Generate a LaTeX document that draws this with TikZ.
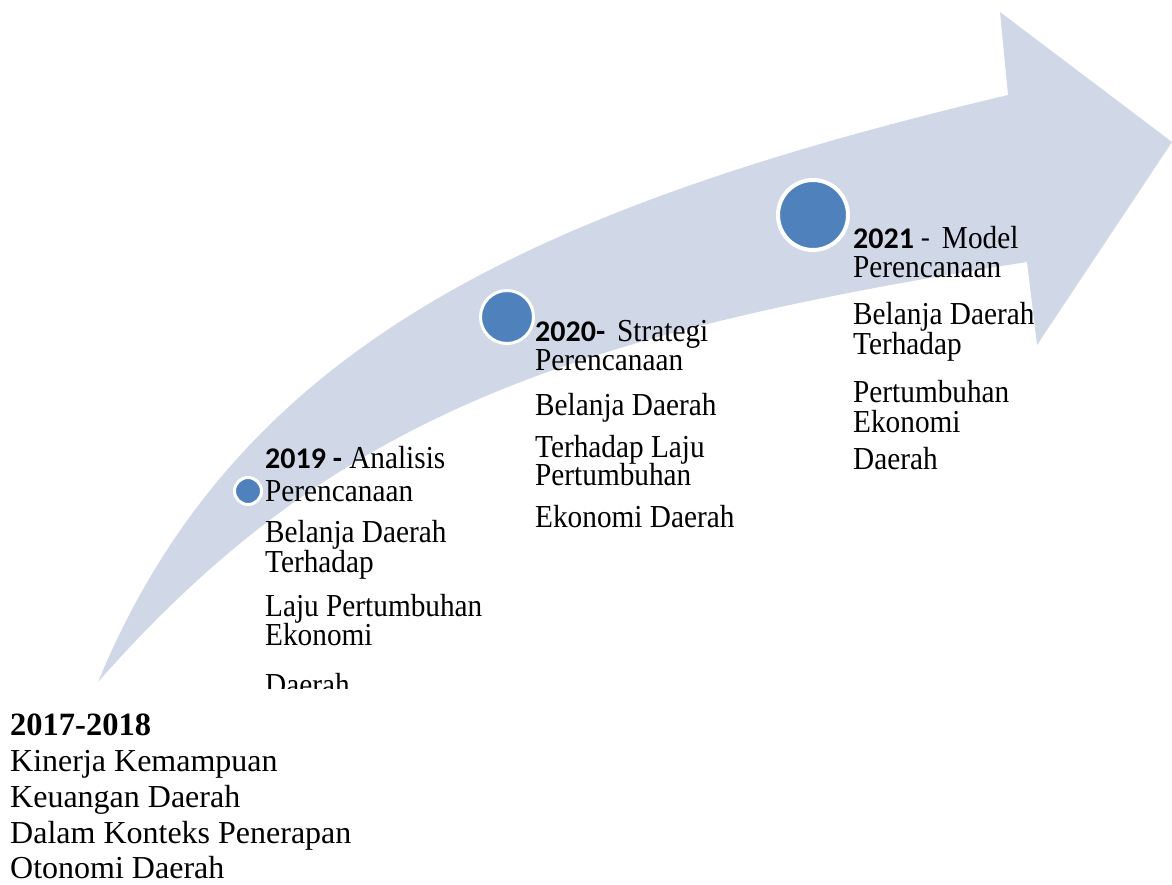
\documentclass[tikz,border=0pt]{standalone}
\usepackage{fontspec}
\setmainfont{Liberation Serif}
\newfontfamily\lblfont{Liberation Serif}[FakeStretch=0.915]
\newfontfamily\yrfont{Carlito}
\definecolor{band}{HTML}{D0D8E8}
\definecolor{dotblue}{HTML}{4F81BD}
\tikzset{
  dotc/.style={circle, fill=dotblue, draw=white, inner sep=0pt},
  lbl/.style={anchor=base west, inner sep=0pt, font=\lblfont\fontsize{32}{36}\selectfont},
  main/.style={anchor=base west, inner sep=0pt, font=\fontsize{32}{36}\selectfont},
}
\newcommand{\yr}[1]{{\yrfont\fontsize{30}{36}\selectfont #1}}
\begin{document}
\begin{tikzpicture}[x=1pt,y=-1pt]
\useasboundingbox (0,0) rectangle (1172,884);
% curved arrow
\fill[band] (98,682) .. controls (235,351) and (523,210) .. (1008,95)
  -- (1000,12) -- (1172,142) -- (1037,345) -- (1027,262)
  .. controls (560,335) and (329,420) .. (98,682) -- cycle;
% milestone dots
\node[dotc, line width=3pt, minimum size=27pt] (d19) at (248,491) {};
\node[dotc, line width=3pt, minimum size=53pt] (d20) at (507,317) {};
\node[dotc, line width=4pt, minimum size=70pt] (d21) at (813,215) {};
% 2019
\node[lbl] (a1) at (265,468) {\yr{\bfseries 2019 -} Analisis};
\foreach \y/\t [count=\i from 2] in {501/Perencanaan, 542/Belanja Daerah, 572/Terhadap, 616/Laju Pertumbuhan, 645/Ekonomi}
  \node[lbl] (a\i) at (265,\y) {\t};
\begin{scope}
  \clip (250,600) rectangle (420,688);
  \node[lbl] (a7) at (265,695) {Daerah};
\end{scope}
% 2020
\node[lbl] (b1) at (535,341) {\yr{\bfseries 2020-}\hspace{12pt}Strategi};
\foreach \y/\t [count=\i from 2] in {370/Perencanaan, 415/Belanja Daerah, 457/Terhadap Laju, 485/Pertumbuhan, 527/Ekonomi Daerah}
  \node[lbl] (b\i) at (535,\y) {\t};
% 2021
\node[lbl] (c1) at (853,248) {\yr{\bfseries 2021}\yr{ -}\hspace{12pt}Model};
\foreach \y/\t [count=\i from 2] in {277/Perencanaan, 324/Belanja Daerah, 354/Terhadap, 402/Pertumbuhan, 432/Ekonomi, 469/Daerah}
  \node[lbl] (c\i) at (853,\y) {\t};
% 2017-2018
\node[main, font=\bfseries\fontsize{32.5}{36}\selectfont] (k1) at (10,735) {2017-2018};
\foreach \y/\t [count=\i from 2] in {771/Kinerja Kemampuan, 807/Keuangan Daerah, 843/Dalam Konteks Penerapan, 878/Otonomi Daerah}
  \node[main] (k\i) at (10,\y) {\t};
\end{tikzpicture}
\end{document}
